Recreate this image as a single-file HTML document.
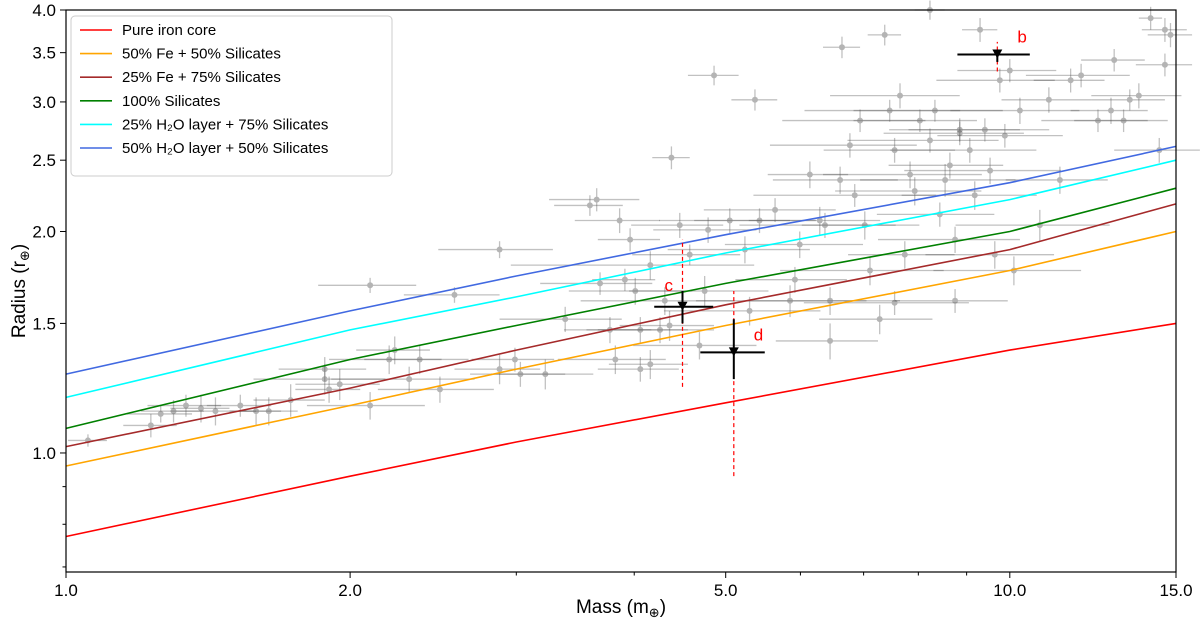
<!DOCTYPE html>
<html><head><meta charset="utf-8">
<style>
html,body{margin:0;padding:0;background:#fff;}
svg{display:block;font-family:"Liberation Sans","DejaVu Sans",sans-serif;}
</style></head>
<body>
<svg id="chart" width="1200" height="622" viewBox="0 0 1200 622" xmlns="http://www.w3.org/2000/svg">
<g id="grid"></g>
<g id="points"></g>
<g id="models"></g>
<g id="highlights"></g>
<g id="axes"></g>
<g id="legend"></g>
</svg>
<script>
// ---- data ----
const modelNames = ["Pure iron core","50% Fe + 50% Silicates","25% Fe + 75% Silicates","100% Silicates","25% H\u2082O layer + 75% Silicates","50% H\u2082O layer + 50% Silicates"];
const modelColors = ["#ff0000","#ffa500","#a52a2a","#008000","#00ffff","#4169e1"];
const modelMass = [1, 2, 3, 5, 10, 15];
const rIron = [0.77, 0.93, 1.035, 1.17, 1.38, 1.50];
const rFe50 = [0.96, 1.16, 1.30, 1.49, 1.77, 2.00];
const rFe25 = [1.02, 1.225, 1.38, 1.59, 1.89, 2.18];
const rSil = [1.08, 1.34, 1.49, 1.70, 2.00, 2.29];
const rH2O25 = [1.19, 1.47, 1.63, 1.87, 2.21, 2.50];
const rH2O50 = [1.28, 1.56, 1.74, 1.98, 2.33, 2.61];
const modelRadii = [rIron, rFe50, rFe25, rSil, rH2O25, rH2O50];

const ptMass = [1.055,1.23,1.26,1.30,1.34,1.39,1.44,1.53,1.59,1.64,1.73,1.88,1.88,1.90,1.95,2.10,2.10,2.20,2.23,2.31,2.37,2.49,2.58,2.88,2.88,2.99,3.03,3.22,3.38,3.59,3.65,3.77,3.82,3.86,3.96,4.01,4.06,4.06,4.16,4.26,4.31,4.36,4.38,4.47,4.58,4.69,4.75,4.79,4.86,5.05,5.24,5.30,5.37,5.43,5.64,5.85,5.92,5.99,6.14,6.29,6.37,6.45,6.45,6.61,6.64,6.77,6.85,6.94,7.02,7.11,7.28,7.37,7.46,7.55,7.65,7.74,7.84,7.93,8.03,8.23,8.23,8.33,8.43,8.54,8.64,8.75,8.85,9.07,9.18,9.30,9.41,9.53,9.64,9.76,9.88,10.0,10.1,10.25,10.76,11.0,11.3,11.6,11.9,12.4,12.8,12.9,13.2,13.4,13.7,14.1,14.4,14.6,14.8,14.6,8.85,8.75,7.55,4.16,3.68,3.91];
const ptRadius = [1.04,1.09,1.13,1.14,1.16,1.15,1.14,1.16,1.14,1.14,1.18,1.26,1.30,1.22,1.24,1.16,1.69,1.34,1.38,1.26,1.34,1.22,1.64,1.89,1.30,1.34,1.28,1.28,1.52,2.17,2.21,1.47,1.34,2.07,1.95,1.66,1.47,1.30,1.32,1.47,1.61,1.49,2.52,2.04,1.86,1.40,1.66,2.01,3.26,2.07,1.89,1.56,3.02,2.07,2.14,1.61,1.72,1.92,2.39,2.07,2.04,1.61,1.42,2.35,3.56,2.62,2.24,2.83,2.04,1.77,1.52,3.70,2.92,2.58,3.06,1.86,2.39,2.27,2.83,2.66,4.0,2.92,2.11,2.35,2.46,1.95,2.75,2.58,2.24,3.76,2.75,2.42,1.86,3.21,2.70,3.31,1.77,2.92,2.04,3.02,2.35,3.21,3.26,2.83,2.92,3.42,2.83,3.02,3.06,3.90,2.58,3.37,3.70,3.76,2.72,1.61,1.60,1.80,1.70,1.72,0.786];
const ptXerr = [0.05,0.08,0.1,0.1,0.12,0.1,0.15,0.12,0.1,0.12,0.15,0.3,0.2,0.15,0.2,0.3,0.25,0.3,0.2,0.4,0.3,0.35,0.3,0.4,0.3,0.3,0.35,0.4,0.5,0.3,0.4,0.4,0.5,0.4,0.3,0.6,0.5,0.4,0.4,0.6,0.8,0.5,0.2,0.5,0.6,0.7,0.8,0.6,0.3,0.8,0.9,1.0,0.3,0.8,0.9,1.2,0.8,1.0,0.6,1.0,1.2,1.2,0.8,1.0,0.3,1.2,1.5,1.2,1.0,1.4,1.0,0.3,1.4,1.2,1.2,1.0,1.5,1.4,1.2,1.5,0.3,1.5,1.2,1.6,1.2,1.5,1.4,1.6,1.5,0.4,1.6,1.8,1.5,1.4,1.5,1.2,1.8,1.6,2.0,1.2,1.4,1.0,1.5,1.6,1.2,1.0,1.5,1.2,1.5,0.4,1.5,1.0,0.8,0.8,1.5,1.2,1.5,1.2,0.5,0.3,0.05];
const ptYerr = [0.02,0.04,0.03,0.04,0.04,0.05,0.05,0.04,0.05,0.05,0.06,0.06,0.05,0.05,0.06,0.05,0.04,0.06,0.06,0.05,0.06,0.05,0.04,0.05,0.06,0.05,0.05,0.06,0.06,0.07,0.08,0.06,0.06,0.08,0.07,0.07,0.06,0.05,0.06,0.06,0.07,0.07,0.09,0.08,0.06,0.06,0.08,0.08,0.1,0.08,0.08,0.07,0.1,0.08,0.08,0.08,0.07,0.08,0.1,0.09,0.08,0.07,0.08,0.1,0.12,0.1,0.08,0.1,0.09,0.08,0.07,0.12,0.1,0.1,0.12,0.08,0.1,0.1,0.1,0.1,0.12,0.1,0.08,0.12,0.1,0.08,0.1,0.1,0.1,0.14,0.1,0.1,0.08,0.12,0.1,0.12,0.08,0.12,0.1,0.12,0.1,0.12,0.12,0.1,0.12,0.12,0.1,0.1,0.12,0.14,0.1,0.12,0.14,0.14,0.1,0.06,0.06,0.08,0.06,0.06,0.01];

const hlLabels = ["b","c","d"];
const hlMass = [9.7, 4.5, 5.1];
const hlRadius = [3.48, 1.58, 1.37];
const hlMassLo = [8.8, 4.2, 4.7];
const hlMassHi = [10.5, 4.85, 5.5];
const hlRadLo = [3.40, 1.50, 1.26];
const hlRadHi = [3.52, 1.66, 1.52];
const hlDashLo = [3.3, 1.23, 0.93];
const hlDashHi = [3.62, 1.95, 1.66];

const xTicks = [1, 2, 5, 10, 15];
const xTickLabels = ["1.0","2.0","5.0","10.0","15.0"];
const xMinor = [3, 4, 6, 7, 8, 9];
const yTicks = [1.0, 1.5, 2.0, 2.5, 3.0, 3.5, 4.0];
const yTickLabels = ["1.0","1.5","2.0","2.5","3.0","3.5","4.0"];
const yMinor = [0.7, 0.8, 0.9];

// ---- scales ----
const X0 = 66, X1 = 1176, Y0 = 572, Y1 = 10;
const xmin = 1, xmax = 15, ymin = 0.689, ymax = 4.0;
function xs(m){ return X0 + (Math.log10(m) - Math.log10(xmin)) / (Math.log10(xmax) - Math.log10(xmin)) * (X1 - X0); }
function ys(r){ return Y0 - (Math.log10(r) - Math.log10(ymin)) / (Math.log10(ymax) - Math.log10(ymin)) * (Y0 - Y1); }
const NS = "http://www.w3.org/2000/svg";
function mk(tag, attrs, parent){ const e = document.createElementNS(NS, tag); for (const k in attrs) e.setAttribute(k, attrs[k]); parent.appendChild(e); return e; }

// ---- points ----
const gp = document.getElementById('points');
for (let i = 0; i < ptMass.length; i++) {
  const g = mk('g', {opacity: 0.36}, gp);
  
  
  const cx = xs(ptMass[i]), cy = ys(ptRadius[i]);
  mk('line', {x1: xs(Math.max(ptMass[i]-ptXerr[i], 0.5)), x2: xs(ptMass[i]+ptXerr[i]), y1: cy, y2: cy, stroke: '#555', 'stroke-width': 1.3}, g);
  mk('line', {x1: cx, x2: cx, y1: ys(ptRadius[i]-ptYerr[i]), y2: ys(ptRadius[i]+ptYerr[i]), stroke: '#555', 'stroke-width': 1.3}, g);
  mk('circle', {cx: cx, cy: cy, r: 3, fill: '#333'}, g);
}

// ---- models ----
const gm = document.getElementById('models');
for (let s = 0; s < modelRadii.length; s++) {
  const d = modelMass.map((m, i) => (i ? 'L' : 'M') + xs(m).toFixed(1) + ',' + ys(modelRadii[s][i]).toFixed(1)).join(' ');
  const p = mk('path', {d: d, fill: 'none', stroke: modelColors[s], 'stroke-width': 1.6}, gm);
  
  
}

// ---- highlighted planets ----
const gh = document.getElementById('highlights');
for (let i = 0; i < hlMass.length; i++) {
  const g = mk('g', {}, gh);
  
  
  const cx = xs(hlMass[i]), cy = ys(hlRadius[i]);
  mk('line', {x1: cx, x2: cx, y1: ys(hlDashLo[i]), y2: ys(hlDashHi[i]), stroke: '#ff0000', 'stroke-width': 1.2, 'stroke-dasharray': '4,3'}, g);
  mk('line', {x1: xs(hlMassLo[i]), x2: xs(hlMassHi[i]), y1: cy, y2: cy, stroke: '#000', 'stroke-width': 2}, g);
  mk('line', {x1: cx, x2: cx, y1: ys(hlRadLo[i]), y2: ys(hlRadHi[i]), stroke: '#000', 'stroke-width': 2}, g);
  mk('path', {d: `M${cx-5},${cy-5} L${cx+5},${cy-5} L${cx},${cy+4} Z`, fill: '#000'}, g);
  const t = mk('text', {x: i === 1 ? cx - 18 : cx + 20, y: cy - 12 - (i === 1 ? 4 : 0), fill: '#ff0000', 'font-size': 17}, g);
  t.textContent = hlLabels[i];
}

// ---- axes ----
const ga = document.getElementById('axes');
mk('rect', {x: X0, y: Y1, width: X1 - X0, height: Y0 - Y1, fill: 'none', stroke: '#000', 'stroke-width': 1.2}, ga);
xTicks.forEach((v, i) => {
  const x = xs(v);
  mk('line', {x1: x, x2: x, y1: Y0, y2: Y0 + 6, stroke: '#000'}, ga);
  const t = mk('text', {x: x, y: Y0 + 24, 'text-anchor': 'middle', 'font-size': 17}, ga);
  
  
  t.textContent = xTickLabels[i];
});
xMinor.forEach(v => mk('line', {x1: xs(v), x2: xs(v), y1: Y0, y2: Y0 + 3.5, stroke: '#000'}, ga));
yTicks.forEach((v, i) => {
  const y = ys(v);
  mk('line', {x1: X0 - 6, x2: X0, y1: y, y2: y, stroke: '#000'}, ga);
  const t = mk('text', {x: X0 - 10, y: y + 6, 'text-anchor': 'end', 'font-size': 17}, ga);
  
  
  t.textContent = yTickLabels[i];
});
yMinor.forEach(v => mk('line', {x1: X0 - 3.5, x2: X0, y1: ys(v), y2: ys(v), stroke: '#000'}, ga));
const xt = mk('text', {x: 621, y: 613, 'text-anchor': 'middle', 'font-size': 19}, ga);


xt.innerHTML = 'Mass (m<tspan font-size="13" dy="4">\u2295</tspan><tspan dy="-4">)</tspan>';
const yt = mk('text', {x: 0, y: 0, 'text-anchor': 'middle', 'font-size': 19, transform: 'translate(25,291) rotate(-90)'}, ga);


yt.innerHTML = 'Radius (r<tspan font-size="13" dy="4">\u2295</tspan><tspan dy="-4">)</tspan>';

// ---- legend ----
const gl = document.getElementById('legend');
mk('rect', {x: 71, y: 16, width: 321, height: 160, rx: 4, fill: '#fff', 'fill-opacity': 0.85, stroke: '#ccc'}, gl);
modelNames.forEach((n, i) => {
  const y = 30 + i * 23.6;
  const g = mk('g', {}, gl);
  
  
  mk('line', {x1: 80, x2: 112, y1: y, y2: y, stroke: modelColors[i], 'stroke-width': 1.6}, g);
  const t = mk('text', {x: 122, y: y + 5, 'font-size': 15}, g);
  t.textContent = n;
});
</script>
</body></html>
